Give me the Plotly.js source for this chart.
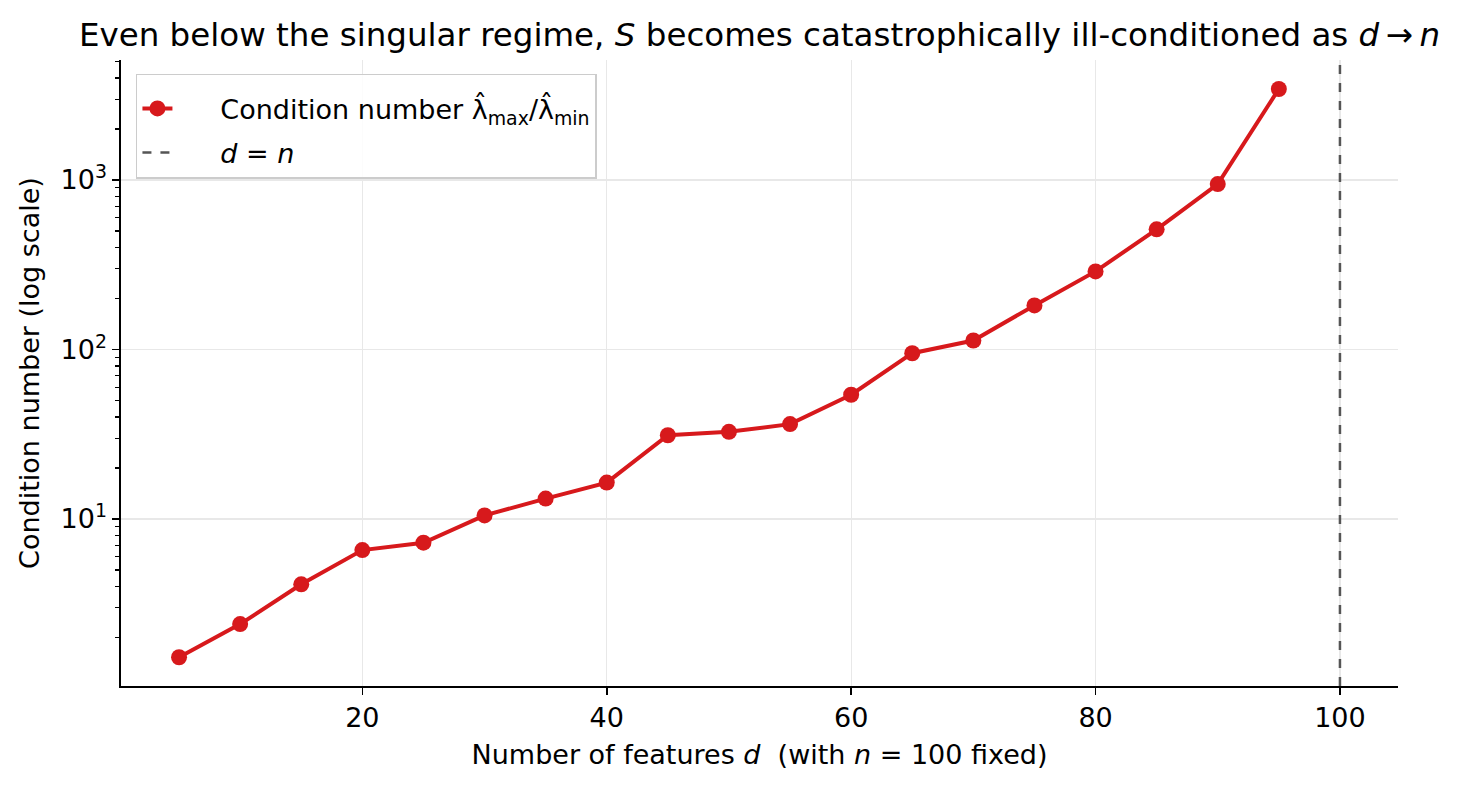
<!DOCTYPE html>
<html>
<head>
<meta charset="utf-8">
<script src="https://cdn.plot.ly/plotly-3.0.1.min.js"></script>
<style>html,body{margin:0;padding:0;background:#fff;}#chart{width:1459px;height:788px;}</style>
</head>
<body>
<div id="chart"></div>
<script>
const features = [5, 10, 15, 20, 25, 30, 35, 40, 45, 50, 55, 60, 65, 70, 75, 80, 85, 90, 95];
const conditionNumber = [1.53, 2.40, 4.12, 6.56, 7.25, 10.5, 13.2, 16.4, 31.2, 32.7, 36.3, 54.1, 95.1, 113, 182, 289, 512, 946, 3443];
const nFixed = 100;
const xTickVals = [20, 40, 60, 80, 100];
const yTickVals = [10, 100, 1000];
const yTickText = ['10<sup>1</sup>', '10<sup>2</sup>', '10<sup>3</sup>'];

const minorVals = [];
[1, 10, 100, 1000].forEach(dec => { for (let k = 2; k <= 9; k++) minorVals.push(dec * k); });

const font = "DejaVu Sans, sans-serif";
const fs = 27;
const pad = '\u00a0\u00a0\u00a0\u00a0\u00a0';

const traces = [{
  x: features,
  y: conditionNumber,
  type: 'scatter',
  mode: 'lines+markers',
  name: pad + 'Condition number λ\u0302<sub>max</sub>/λ\u0302<sub>min</sub>',
  legendgroup: 'a',
  line: {color: '#d7191c', width: 4},
  marker: {color: '#d7191c', size: 16}
}];

const layout = {
  width: 1459, height: 788,
  paper_bgcolor: '#fff', plot_bgcolor: '#fff',
  margin: {l: 121, r: 61, t: 60, b: 102},
  font: {family: font, size: fs, color: '#000'},
  title: {
    text: 'Even below the singular regime, <i>S</i> becomes catastrophically ill-conditioned as <i>d</i>\u2009→\u2009<i>n</i>',
    font: {family: font, size: 32.5, color: '#000'},
    x: 0.5, xref: 'paper', xanchor: 'center',
    y: 1 - 35 / 788, yref: 'container', yanchor: 'middle'
  },
  xaxis: {
    range: [0.25, 104.75],
    tickmode: 'array', tickvals: xTickVals,
    ticks: 'outside', ticklen: 7, tickwidth: 1.6, tickcolor: '#000',
    showline: true, linecolor: '#000', linewidth: 1.6,
    showgrid: true, gridcolor: '#e8e8e8', gridwidth: 1.2,
    zeroline: false, mirror: false,
    tickfont: {family: font, size: fs},
    title: {text: 'Number of features <i>d</i>  (with <i>n</i> = 100 fixed)', font: {family: font, size: fs}, standoff: 13}
  },
  yaxis: {
    type: 'log',
    range: [0.015, 3.708],
    tickmode: 'array', tickvals: yTickVals, ticktext: yTickText,
    ticks: 'outside', ticklen: 7, tickwidth: 1.6, tickcolor: '#000',
    showline: true, linecolor: '#000', linewidth: 1.6,
    showgrid: true, gridcolor: '#e8e8e8', gridwidth: 1.2,
    zeroline: false,
    tickfont: {family: font, size: fs},
    minor: {tickmode: 'array', tickvals: minorVals, ticks: 'outside', ticklen: 4, tickwidth: 1.2, tickcolor: '#000', showgrid: false},
    title: {text: 'Condition number (log scale)', font: {family: font, size: fs}, standoff: 13}
  },
  shapes: [{
    type: 'line', xref: 'x', yref: 'paper',
    x0: nFixed, x1: nFixed, y0: 0, y1: 1,
    line: {color: '#555555', width: 2.5, dash: 'dash'},
    showlegend: true, name: pad + '<i>d</i> = <i>n</i>', legendgroup: 'b'
  }],
  legend: {
    x: 0.0117, y: 0.978, xanchor: 'left', yanchor: 'top',
    bgcolor: 'rgba(255,255,255,0.85)', bordercolor: '#cccccc', borderwidth: 1.5,
    font: {family: font, size: fs},
    title: {text: '\u00a0', font: {family: font, size: 7}},
    traceorder: 'grouped', tracegroupgap: 6
  },
  showlegend: true
};

Plotly.newPlot('chart', traces, layout, {displayModeBar: false, staticPlot: true});
</script>
</body>
</html>
